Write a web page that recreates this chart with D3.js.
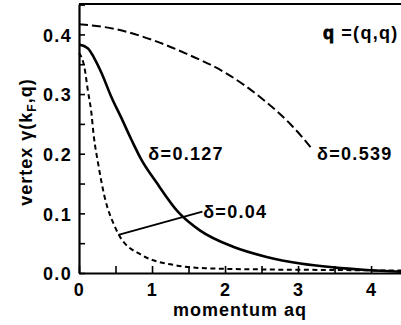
<!DOCTYPE html>
<html><head><meta charset="utf-8">
<script src="https://cdn.jsdelivr.net/npm/d3@7"></script>
<style>
html,body{margin:0;padding:0;background:#fff;}
text{font-family:"Liberation Sans",Arial,Helvetica,sans-serif;font-weight:bold;fill:#000;}
</style></head><body>
<svg id="chart" width="401" height="325"></svg>
<script>
// ---- data ----
const xTicks = [0, 1, 2, 3, 4];
const yTicks = [0.0, 0.1, 0.2, 0.3, 0.4];

const qD539 = [0, 0.5, 1.0, 1.5, 2.0, 2.5, 2.9, 3.2];
const vD539 = [0.417, 0.409, 0.391, 0.366, 0.336, 0.293, 0.249, 0.207];

const qD127 = [0, 0.12, 0.21, 0.31, 0.44, 0.58, 0.72, 0.85, 1.06, 1.36, 1.66, 2.11, 2.57, 3.03, 3.48, 3.94, 4.41];
const vD127 = [0.383, 0.377, 0.360, 0.335, 0.296, 0.260, 0.223, 0.191, 0.152, 0.102, 0.071, 0.044, 0.027, 0.016, 0.0095, 0.005, 0.002];

const qD004 = [0, 0.08, 0.12, 0.17, 0.2, 0.26, 0.35, 0.49, 0.56, 0.86, 1.32, 1.73, 2.5, 3.5, 4.41];
const vD004 = [0.369, 0.341, 0.307, 0.268, 0.232, 0.185, 0.128, 0.078, 0.061, 0.030, 0.013, 0.008, 0.006, 0.005, 0.004];

const labels = [
  {text: "δ=0.127", q: 0.95, v: 0.19},
  {text: "δ=0.539", q: 3.26, v: 0.19},
  {text: "δ=0.04", q: 1.7, v: 0.093}
];
const leader = [{q: 0.54, v: 0.064}, {q: 1.69, v: 0.103}];

// ---- chart ----
const svg = d3.select("#chart");
const x = d3.scaleLinear().domain([0, 4.41]).range([79, 401]);
const y = d3.scaleLinear().domain([0, 0.451]).range([273, 4]);

const fontSize = 18, ls = 1.3;

// axes
const xAxis = d3.axisBottom(x)
  .tickValues(d3.range(0, 4.41, 0.5))
  .tickSizeInner(-7).tickSizeOuter(0).tickPadding(10)
  .tickFormat(d => xTicks.includes(d) ? d3.format("d")(d) : "");
const gx = svg.append("g").attr("transform", `translate(0,${y(0)})`).call(xAxis);

const yAxis = d3.axisLeft(y)
  .tickValues(d3.range(0, 0.451, 0.05).map(v => +v.toFixed(2)))
  .tickSizeInner(-6).tickSizeOuter(0).tickPadding(7)
  .tickFormat(d => yTicks.some(t => Math.abs(t - d) < 1e-9) ? d3.format(".1f")(d) : "");
const gy = svg.append("g").attr("transform", `translate(${x(0)},0)`).call(yAxis);

[gx, gy].forEach(g => {
  g.select(".domain").attr("stroke", "#000").attr("stroke-width", 2.2);
  g.selectAll(".tick line").attr("stroke", "#000").attr("stroke-width", 1.6);
  g.selectAll(".tick text").attr("font-size", fontSize).attr("font-weight", "bold")
    .attr("font-family", "Liberation Sans, Arial, sans-serif").attr("letter-spacing", ls).attr("fill", "#000");
});
gy.selectAll(".tick text").attr("dy", "0.38em");

// top border
svg.append("line").attr("x1", x(0)).attr("x2", x(4.41)).attr("y1", y(0.451)).attr("y2", y(0.451))
  .attr("stroke", "#000").attr("stroke-width", 1.8);

// curves
const line = d3.line().x(d => x(d[0])).y(d => y(d[1])).curve(d3.curveMonotoneX);
const series = [
  {q: qD539, v: vD539, dash: "9,4", w: 2},
  {q: qD127, v: vD127, dash: null, w: 2.6},
  {q: qD004, v: vD004, dash: "5,3.5", w: 2}
];
series.forEach(s => {
  svg.append("path").datum(s.q.map((q, i) => [q, s.v[i]]))
    .attr("d", line).attr("fill", "none").attr("stroke", "#000")
    .attr("stroke-width", s.w).attr("stroke-dasharray", s.dash);
});

// leader line
svg.append("line")
  .attr("x1", x(leader[0].q)).attr("y1", y(leader[0].v))
  .attr("x2", x(leader[1].q)).attr("y2", y(leader[1].v))
  .attr("stroke", "#000").attr("stroke-width", 1.8);

// labels
labels.forEach(l => {
  svg.append("text").attr("x", x(l.q)).attr("y", y(l.v))
    .attr("font-size", fontSize).attr("letter-spacing", ls).text(l.text);
});

// q = (q,q)
const qt = svg.append("text").attr("x", 323).attr("y", 39).attr("font-size", fontSize).attr("letter-spacing", ls);
qt.append("tspan").attr("stroke", "#000").attr("stroke-width", 0.8).text("q");
qt.append("tspan").attr("dx", 6).text("=(q,q)");

// axis titles
svg.append("text").attr("x", 240).attr("y", 316).attr("text-anchor", "middle")
  .attr("font-size", fontSize).attr("letter-spacing", 1).text("momentum aq");

const yt = svg.append("text").attr("transform", "translate(32,142) rotate(-90)")
  .attr("text-anchor", "middle").attr("font-size", fontSize).attr("letter-spacing", 1);
yt.append("tspan").text("vertex γ(k");
yt.append("tspan").attr("font-size", 12).attr("dy", 4).text("F");
yt.append("tspan").attr("dy", -4).text(",q)");
</script>
</body></html>
